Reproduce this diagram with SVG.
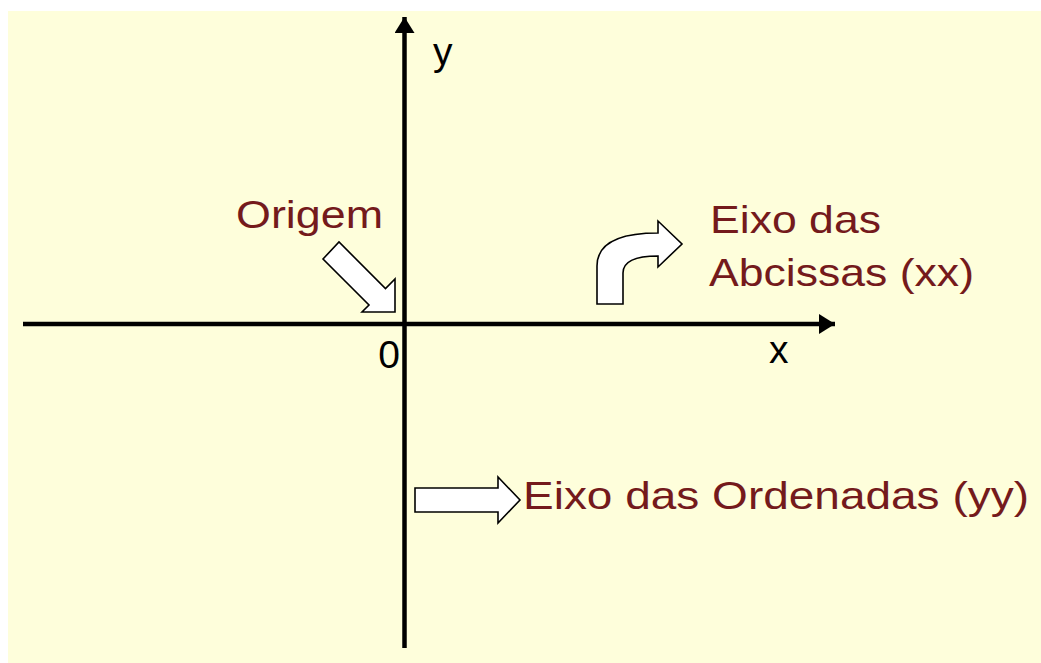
<svg xmlns="http://www.w3.org/2000/svg" width="1041" height="663" viewBox="0 0 1041 663">
  <defs>
    <style>
      .lbl { font-family: "Liberation Sans", Arial, sans-serif; font-size: 39px; fill: #741a1c; }
      .ax { font-family: "Liberation Sans", Arial, sans-serif; font-size: 39px; fill: #000; }
      .axis { stroke: #000; stroke-width: 4.5; fill: none; }
      .block { fill: #ffffff; stroke: #000; stroke-width: 1.6; stroke-linejoin: miter; }
    </style>
    <marker id="ah" viewBox="0 0 16 20" refX="16" refY="10" markerWidth="16" markerHeight="20" markerUnits="userSpaceOnUse" orient="auto">
      <path d="M0,0 L16,10 L0,20 Z" fill="#000"/>
    </marker>
  </defs>
  <rect x="0" y="0" width="1041" height="663" fill="#ffffff"/>
  <rect x="8" y="11" width="1033" height="652" fill="#fefedb"/>

  <g id="connectors">
    <line class="axis" x1="23" y1="324" x2="835" y2="324" marker-end="url(#ah)"/>
    <line class="axis" x1="404.5" y1="648" x2="404.5" y2="17" marker-end="url(#ah)"/>
  </g>

  <g id="label-y"><text class="ax" x="433" y="65">y</text></g>
  <g id="label-x"><text class="ax" x="769" y="363">x</text></g>
  <g id="label-0"><text class="ax" x="400" y="368" text-anchor="end">0</text></g>

  <g id="origem">
    <text class="lbl" x="236" y="228" textLength="147" lengthAdjust="spacingAndGlyphs">Origem</text>
    <polygon class="block" points="323,259 339,242 385.5,288.5 395,279 395,312 362,312 369,305"/>
  </g>

  <g id="abcissas">
    <path class="block" d="M597,304 L597,266 C597,244 617,233 658,233 L658,221 L682,244 L658,267 L658,256 C636,256 623,261 623,273 L623,304 Z"/>
    <text class="lbl" x="710" y="233" textLength="171" lengthAdjust="spacingAndGlyphs">Eixo das</text>
    <text class="lbl" x="709" y="286" textLength="265" lengthAdjust="spacingAndGlyphs">Abcissas (xx)</text>
  </g>

  <g id="ordenadas">
    <polygon class="block" points="415,488 498,488 498,477 520,500 498,523 498,512 415,512"/>
    <text class="lbl" x="523" y="509" textLength="506" lengthAdjust="spacingAndGlyphs">Eixo das Ordenadas (yy)</text>
  </g>
</svg>
